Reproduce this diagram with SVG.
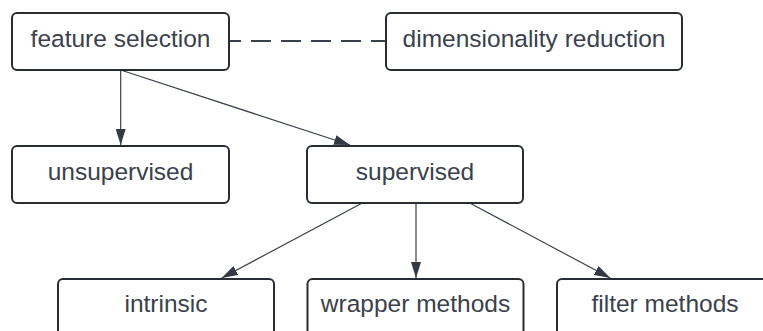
<svg xmlns="http://www.w3.org/2000/svg" width="763" height="331" viewBox="0 0 763 331">
  <defs>
    <style>
      .box { fill: #ffffff; stroke: #282c33; stroke-width: 2; }
      .label { font-family: "Liberation Sans", Arial, sans-serif; font-size: 24.5px; fill: #3a414a; text-anchor: middle; }
      .edge { fill: none; stroke: #3a414a; stroke-width: 1.2; }
      .dashed { fill: none; stroke: #3a414a; stroke-width: 2; stroke-dasharray: 20 10; stroke-dashoffset: 8; }
    </style>
    <marker id="arrow" markerUnits="userSpaceOnUse" markerWidth="16" markerHeight="10" refX="16" refY="5" orient="auto">
      <path d="M0,0 L16,5 L0,10 Z" fill="#333a44"/>
    </marker>
  </defs>

  <rect width="763" height="331" fill="#ffffff"/>

  <!-- connectors -->
  <g id="connectors">
    <line class="dashed" x1="229" y1="41" x2="386" y2="41"/>
    <line class="edge" x1="120.7" y1="70" x2="120.7" y2="145" marker-end="url(#arrow)"/>
    <line class="edge" x1="120.7" y1="70" x2="350" y2="145" marker-end="url(#arrow)"/>
    <line class="edge" x1="362.3" y1="203" x2="221.7" y2="278" marker-end="url(#arrow)"/>
    <line class="edge" x1="416" y1="203" x2="416" y2="278" marker-end="url(#arrow)"/>
    <line class="edge" x1="469.7" y1="203" x2="610.3" y2="278" marker-end="url(#arrow)"/>
  </g>

  <!-- nodes -->
  <g id="feature-selection">
    <rect class="box" x="12" y="13" width="217" height="57" rx="5"/>
    <text class="label" x="120.5" y="47">feature selection</text>
  </g>
  <g id="dimensionality-reduction">
    <rect class="box" x="386" y="13" width="296" height="57" rx="5"/>
    <text class="label" x="534" y="47">dimensionality reduction</text>
  </g>
  <g id="unsupervised">
    <rect class="box" x="12" y="146" width="217" height="57" rx="5"/>
    <text class="label" x="120.5" y="180">unsupervised</text>
  </g>
  <g id="supervised">
    <rect class="box" x="307" y="146" width="216" height="57" rx="5"/>
    <text class="label" x="415" y="180">supervised</text>
  </g>
  <g id="intrinsic">
    <rect class="box" x="58" y="279" width="216" height="57" rx="5"/>
    <text class="label" x="166" y="312">intrinsic</text>
  </g>
  <g id="wrapper-methods">
    <rect class="box" x="307.5" y="279" width="216" height="57" rx="5"/>
    <text class="label" x="415.5" y="312">wrapper methods</text>
  </g>
  <g id="filter-methods">
    <rect class="box" x="557" y="279" width="216" height="57" rx="5"/>
    <text class="label" x="665" y="312">filter methods</text>
  </g>
</svg>
